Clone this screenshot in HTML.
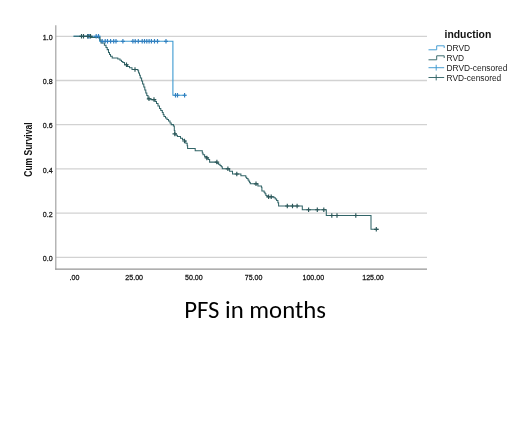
<!DOCTYPE html>
<html><head><meta charset="utf-8"><style>
html,body{margin:0;padding:0;background:#fff;}
body{width:520px;height:448px;overflow:hidden;position:relative;}
svg{position:absolute;left:0;top:0;}
text{font-family:"Liberation Sans",Arial,sans-serif;}
</style></head><body>
<svg width="520" height="448" viewBox="0 0 520 448">
<defs><filter id="bl" x="-5%" y="-5%" width="110%" height="110%"><feGaussianBlur stdDeviation="0.3"/></filter></defs>
<g stroke="#d2d2d2" stroke-width="1.3"><line x1="56" x2="427" y1="257.3" y2="257.3"/><line x1="56" x2="427" y1="213.1" y2="213.1"/><line x1="56" x2="427" y1="168.9" y2="168.9"/><line x1="56" x2="427" y1="124.7" y2="124.7"/><line x1="56" x2="427" y1="80.5" y2="80.5"/><line x1="56" x2="427" y1="36.3" y2="36.3"/></g>
<g stroke-width="1.2" fill="none"><path d="M55.8,25.2 V269.8" stroke="#a3a3a3"/><path d="M55.2,269.2 H427" stroke="#959595"/></g>
<g font-size="7.7px" fill="#111" stroke="#111" stroke-width="0.25"><text transform="translate(52.6,260.9) scale(0.92,1)" text-anchor="end">0.0</text><text transform="translate(52.6,216.7) scale(0.92,1)" text-anchor="end">0.2</text><text transform="translate(52.6,172.5) scale(0.92,1)" text-anchor="end">0.4</text><text transform="translate(52.6,128.3) scale(0.92,1)" text-anchor="end">0.6</text><text transform="translate(52.6,84.1) scale(0.92,1)" text-anchor="end">0.8</text><text transform="translate(52.6,39.9) scale(0.92,1)" text-anchor="end">1.0</text><text transform="translate(74.5,280.2) scale(0.92,1)" text-anchor="middle">.00</text><text transform="translate(134.2,280.2) scale(0.92,1)" text-anchor="middle">25.00</text><text transform="translate(193.9,280.2) scale(0.92,1)" text-anchor="middle">50.00</text><text transform="translate(253.6,280.2) scale(0.92,1)" text-anchor="middle">75.00</text><text transform="translate(313.3,280.2) scale(0.92,1)" text-anchor="middle">100.00</text><text transform="translate(373.0,280.2) scale(0.92,1)" text-anchor="middle">125.00</text></g>
<text transform="translate(31.6,149.6) rotate(-90) scale(0.85,1)" text-anchor="middle" font-size="10px" font-weight="bold" fill="#111">Cum Survival</text>
<g fill="none" stroke-width="1.1" filter="url(#bl)">
<path d="M73.5,36.3 L99.6,36.3 L99.6,41.3 L172.9,41.3 L172.9,95.2 L186.5,95.2" stroke="#3d9ad1"/>
<path d="M73.5,36.3 L90.8,36.3 L90.8,37.5 L98.6,37.5 L100.0,37.5 L100.0,40.0 L101.0,40.0 L101.0,42.9 L104.4,42.9 L104.4,45.2 L106.0,45.2 L106.0,47.5 L107.2,47.5 L107.2,49.6 L108.5,49.6 L108.5,52.5 L109.5,52.5 L109.5,54.5 L110.5,54.5 L110.5,56.3 L112.2,56.3 L112.2,58.0 L117.8,58.0 L117.8,59.0 L120.0,59.0 L120.0,60.2 L121.5,60.2 L121.5,61.5 L122.8,61.5 L122.8,62.5 L124.5,62.5 L124.5,64.7 L127.5,64.7 L127.5,66.5 L129.5,66.5 L129.5,67.7 L132.0,67.7 L132.0,69.5 L137.9,69.5 L137.9,70.8 L138.6,70.8 L138.6,73.0 L139.5,73.0 L139.5,75.3 L140.3,75.3 L140.3,78.0 L141.6,78.0 L141.6,80.9 L142.6,80.9 L142.6,84.0 L143.8,84.0 L143.8,87.0 L144.8,87.0 L144.8,90.0 L145.8,90.0 L145.8,93.0 L146.8,93.0 L146.8,95.5 L148.0,95.5 L148.0,98.8 L151.0,98.8 L151.0,99.6 L155.0,99.6 L155.0,101.5 L156.5,101.5 L156.5,103.5 L158.0,103.5 L158.0,106.0 L159.5,106.0 L159.5,108.5 L160.8,108.5 L160.8,110.5 L162.3,110.5 L162.3,112.5 L163.2,112.5 L163.2,114.5 L164.0,114.5 L164.0,116.5 L165.5,116.5 L165.5,118.0 L167.0,118.0 L167.0,119.5 L168.5,119.5 L168.5,121.0 L170.0,121.0 L170.0,123.0 L171.2,123.0 L171.2,124.6 L173.4,124.6 L173.4,125.9 L174.3,125.9 L174.3,130.4 L174.8,130.4 L174.8,133.9 L176.0,133.9 L176.0,135.3 L177.4,135.3 L177.4,136.5 L180.5,136.5 L180.5,138.3 L182.5,138.3 L182.5,139.7 L184.5,139.7 L184.5,141.0 L185.8,141.0 L185.8,143.2 L187.2,143.2 L187.2,145.8 L187.6,145.8 L187.6,148.5 L195.2,148.5 L195.2,150.8 L202.3,150.8 L202.3,153.0 L203.0,153.0 L203.0,154.8 L204.6,154.8 L204.6,156.6 L206.8,156.6 L206.8,157.9 L208.0,157.9 L208.0,159.5 L209.6,159.5 L209.6,162.1 L216.7,162.1 L216.7,163.2 L218.5,163.2 L218.5,164.3 L220.0,164.3 L220.0,165.5 L221.2,165.5 L221.2,166.8 L222.3,166.8 L222.3,168.8 L229.6,168.8 L229.6,171.2 L232.5,171.2 L232.5,174.0 L240.9,174.0 L240.9,175.8 L245.8,175.8 L245.8,177.2 L246.7,177.2 L246.7,178.5 L248.0,178.5 L248.0,180.0 L248.9,180.0 L248.9,181.2 L249.6,181.2 L249.6,182.5 L250.3,182.5 L250.3,183.8 L257.9,183.8 L257.9,186.0 L261.4,186.0 L261.4,187.3 L261.9,187.3 L261.9,191.0 L264.1,191.0 L264.1,192.3 L265.0,192.3 L265.0,193.8 L265.9,193.8 L265.9,195.4 L267.2,195.4 L267.2,196.8 L273.9,196.8 L273.9,197.8 L275.3,197.8 L275.3,198.9 L276.6,198.9 L276.6,200.4 L277.9,200.4 L277.9,202.8 L278.6,202.8 L278.6,206.0 L302.3,206.0 L302.3,209.7 L326.3,209.7 L326.3,215.5 L371.0,215.5 L371.0,229.3 L378.5,229.3" stroke="#336568" stroke-width="1.05"/>
<path d="M85.7,36.3h4M87.7,34.0v4.5M87.2,36.3h4M89.2,34.0v4.5M94.2,36.3h4M96.2,34.0v4.5M96.5,36.3h4M98.5,34.0v4.5M100.2,41.3h4M102.2,39.0v4.5M103.2,41.3h4M105.2,39.0v4.5M105.5,41.3h4M107.5,39.0v4.5M108.6,41.3h4M110.6,39.0v4.5M111.7,41.3h4M113.7,39.0v4.5M114.0,41.3h4M116.0,39.0v4.5M120.9,41.3h4M122.9,39.0v4.5M130.9,41.3h4M132.9,39.0v4.5M133.2,41.3h4M135.2,39.0v4.5M136.3,41.3h4M138.3,39.0v4.5M140.2,41.3h4M142.2,39.0v4.5M142.5,41.3h4M144.5,39.0v4.5M144.8,41.3h4M146.8,39.0v4.5M147.1,41.3h4M149.1,39.0v4.5M149.4,41.3h4M151.4,39.0v4.5M152.5,41.3h4M154.5,39.0v4.5M155.5,41.3h4M157.5,39.0v4.5M164.0,41.3h4M166.0,39.0v4.5M173.5,95.2h4M175.5,93.0v4.5M175.5,95.2h4M177.5,93.0v4.5M182.6,95.2h4M184.6,93.0v4.5" stroke="#3080c0" stroke-width="1.15"/>
<path d="M79.2,36.3h4.5M81.5,34.0v4.5M81.2,36.3h4.5M83.5,34.0v4.5M85.8,36.3h4.5M88.0,34.0v4.5M88.2,36.3h4.5M90.5,34.0v4.5M124.2,64.7h4.5M126.5,62.5v4.5M132.8,69.5h4.5M135.0,67.2v4.5M146.8,98.8h4.5M149.0,96.5v4.5M151.8,99.6h4.5M154.0,97.3v4.5M172.5,133.9h4.5M174.8,131.7v4.5M182.2,141.0h4.5M184.5,138.8v4.5M204.6,157.9h4.5M206.8,155.7v4.5M214.7,162.1h4.5M216.9,159.8v4.5M225.7,168.8h4.5M227.9,166.5v4.5M234.6,174.0h4.5M236.8,171.8v4.5M253.8,183.8h4.5M256.0,181.6v4.5M266.4,196.8h4.5M268.6,194.6v4.5M269.0,196.8h4.5M271.2,194.6v4.5M285.1,206.0h4.5M287.3,203.8v4.5M290.2,206.0h4.5M292.5,203.8v4.5M294.9,206.0h4.5M297.1,203.8v4.5M306.4,209.7h4.5M308.6,207.4v4.5M315.1,209.7h4.5M317.3,207.4v4.5M321.6,209.7h4.5M323.8,207.4v4.5M329.6,215.5h4.5M331.8,213.2v4.5M334.8,215.5h4.5M337.0,213.2v4.5M353.6,215.5h4.5M355.8,213.2v4.5M374.1,229.3h4.5M376.3,227.1v4.5" stroke="#2a5658" stroke-width="1.15"/>
</g>
<text x="444.5" y="37.8" font-size="10.4px" font-weight="bold" fill="#111">induction</text>
<g font-size="8.4px" fill="#222">
<text x="446.5" y="51.2">DRVD</text>
<text x="446.5" y="61.3">RVD</text>
<text x="446.5" y="71.4">DRVD-censored</text>
<text x="446.5" y="81.2">RVD-censored</text>
</g>
<g fill="none" stroke-width="0.95">
<path d="M428.5,49.8 H436.7 V45.8 H444.2 V48" stroke="#3d9ad1"/>
<path d="M428.5,59.8 H436.7 V55.8 H444.2 V58" stroke="#336568"/>
<path d="M428.5,67.7 H444.2 M436.2,64.8 V70.6" stroke="#3d9ad1"/>
<path d="M428.5,77.5 H444.2 M436.2,74.6 V80.4" stroke="#336568"/>
</g>
<text x="184.3" y="318.1" style="font-family:Carlito,'Liberation Sans',sans-serif;font-size:24.75px" fill="#000" textLength="141.6" lengthAdjust="spacingAndGlyphs">PFS in months</text>
</svg>
</body></html>
